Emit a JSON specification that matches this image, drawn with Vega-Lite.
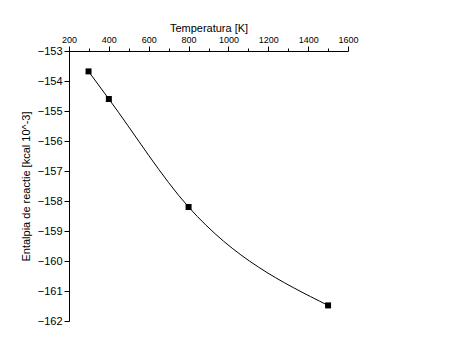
{
  "$schema": "https://vega.github.io/schema/vega-lite/v6.json",
  "autosize": "none",
  "width": 279,
  "height": 270,
  "padding": {"left": 69, "top": 51, "right": 105, "bottom": 32},
  "background": "white",
  "config": {
    "view": {"stroke": null},
    "axis": {"labelFont": "Liberation Sans", "titleFont": "Liberation Sans", "labelColor": "#000000", "titleColor": "#000000", "domainColor": "#000000", "tickColor": "#000000", "grid": false, "titleFontWeight": "normal"}
  },
  "data": {"values": [
    {"T": 298, "H": -153.68},
    {"T": 400, "H": -154.6},
    {"T": 800, "H": -158.2},
    {"T": 1500, "H": -161.48}
  ]},
  "encoding": {
    "x": {"field": "T", "type": "quantitative", "scale": {"domain": [200, 1600], "nice": false, "zero": false},
      "axis": {"orient": "top", "title": "Temperatura [K]", "values": [200,300,400,500,600,700,800,900,1000,1100,1200,1300,1400,1500,1600],
        "labelExpr": "datum.value % 200 === 0 ? datum.label : ''",
        "format": "d",
        "tickSize": {"condition": {"test": "datum.value % 200 !== 0", "value": 3}, "value": 5},
        "labelFontSize": 9, "titleFontSize": 11, "labelPadding": 2, "titlePadding": 2, "domainWidth": 1, "labelFlush": false}},
    "y": {"field": "H", "type": "quantitative", "scale": {"domain": [-162, -153], "nice": false, "zero": false},
      "axis": {"title": "Entalpia de reactie [kcal 10^-3]", "titleColor": "#000000", "values": [-162,-161.5,-161,-160.5,-160,-159.5,-159,-158.5,-158,-157.5,-157,-156.5,-156,-155.5,-155,-154.5,-154,-153.5,-153],
        "labelExpr": "datum.value % 1 === 0 ? datum.label : ''",
        "format": "d",
        "tickSize": {"condition": {"test": "datum.value % 1 !== 0", "value": 3}, "value": 5},
        "labelFontSize": 11, "titleFontSize": 11, "labelPadding": 2, "titlePadding": 6, "domainWidth": 1, "labelFlush": false}}
  },
  "layer": [
    {"mark": {"type": "line", "interpolate": "monotone", "color": "black", "strokeWidth": 1}},
    {"mark": {"type": "point", "shape": "square", "filled": true, "color": "black", "size": 36, "opacity": 1}}
  ]
}
